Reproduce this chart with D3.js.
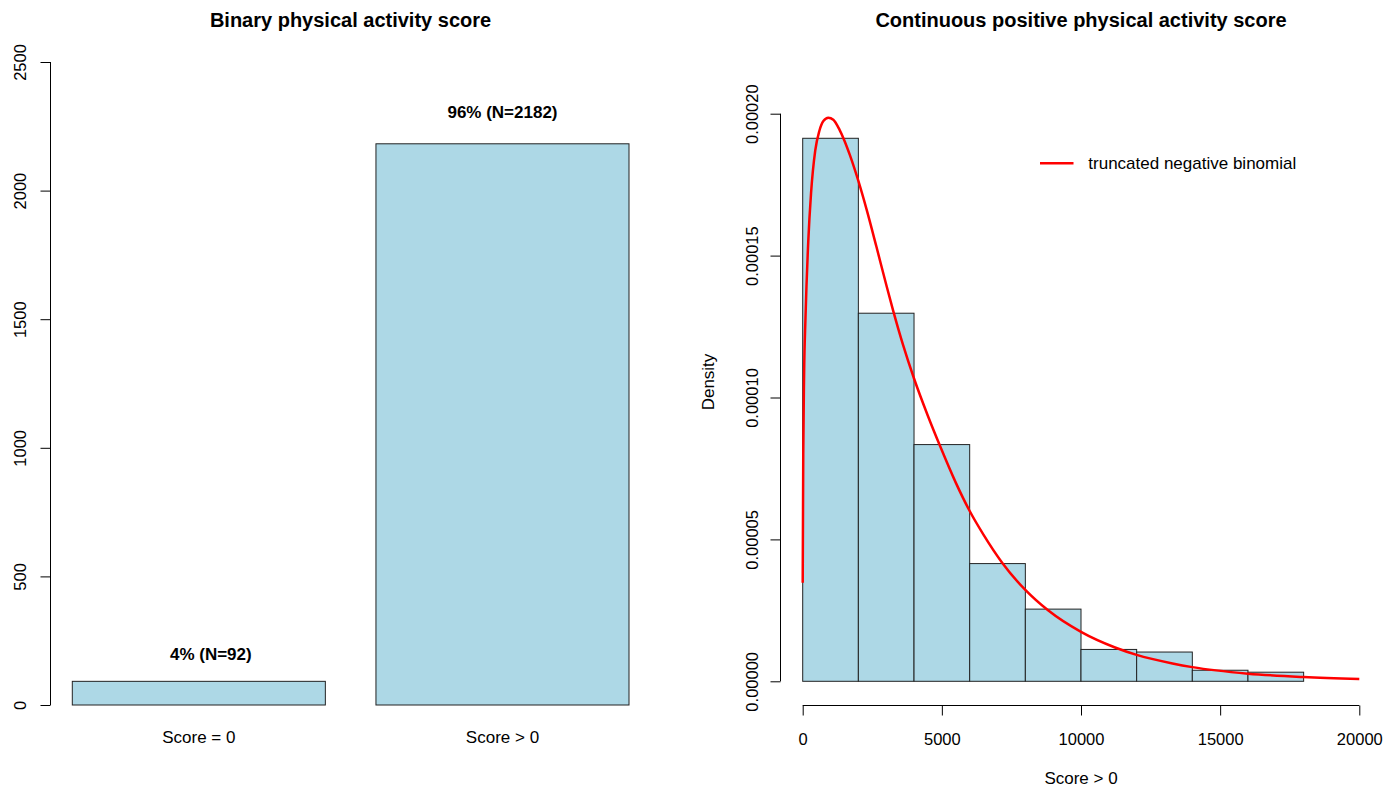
<!DOCTYPE html>
<html>
<head>
<meta charset="utf-8">
<script src="https://cdn.jsdelivr.net/npm/d3@7"></script>
<style>
  html, body { margin: 0; padding: 0; background: #fff; }
  svg { display: block; font-family: "Liberation Sans", Arial, Helvetica, sans-serif; }
  text { fill: #000; }
</style>
</head>
<body>
<svg id="chart" width="1397" height="788"></svg>
<script>
// ---------------- DATA ----------------
const barCategories = ["Score = 0", "Score > 0"];
const barCounts = [92, 2182];
const barLabels = ["4% (N=92)", "96% (N=2182)"];
const barYTicks = [0, 500, 1000, 1500, 2000, 2500];

const histBreaks = [0, 2000, 4000, 6000, 8000, 10000, 12000, 14000, 16000, 18000];
const histCounts = [835, 566, 364, 181, 111, 49, 45, 17, 14];
const histN = 2182;
const histXTicks = [0, 5000, 10000, 15000, 20000];
const histYTicks = [0, 0.00005, 0.0001, 0.00015, 0.0002];

// fitted curve: score, density
const curveX = [0, 20, 50, 100, 200, 300, 450, 600, 750, 920, 1100, 1325, 1500, 1700, 2000,
  2300, 2650, 3000, 3250, 3600, 4000, 4500, 4940, 5500, 6000, 6500, 7166, 8000, 8817,
  10000, 11224, 12000, 13287, 14000, 16000, 18000, 20000];
const curveY = [0.0000347, 0.000080, 0.000108, 0.000128, 0.000155, 0.000172, 0.000187, 0.000194,
  0.0001975, 0.0001986, 0.0001979, 0.0001943, 0.0001905, 0.0001853, 0.0001763,
  0.0001661, 0.0001531, 0.0001398, 0.0001306, 0.0001187, 0.0001067, 0.0000935, 0.0000828,
  0.0000700, 0.0000600, 0.0000516, 0.0000418, 0.0000322, 0.0000250,
  0.0000174, 0.0000119, 0.0000093, 0.0000063, 0.0000050, 0.0000027, 0.0000015, 0.0000008];

const legendLabel = "truncated negative binomial";
const titles = ["Binary physical activity score", "Continuous positive physical activity score"];

// ---------------- DRAW ----------------
const svg = d3.select("#chart");
const fill = "#ADD8E6";
const stroke = "#222";
const tickFont = "16.5px";
const labFont = "17px";

// ===== Left panel: bar plot =====
const L = svg.append("g");
const xb = d3.scaleBand().domain(barCategories).range([72.3, 629]).paddingInner(1 / 6).paddingOuter(0);
const yb = d3.scaleLinear().domain([0, 2500]).range([705, 62]);

L.selectAll("rect.bar").data(barCounts).enter().append("rect")
  .attr("x", (d, i) => xb(barCategories[i]))
  .attr("y", d => yb(d))
  .attr("width", xb.bandwidth())
  .attr("height", d => yb(0) - yb(d))
  .attr("fill", fill).attr("stroke", stroke).attr("stroke-width", 1);

// y axis
const yAxisL = d3.axisLeft(yb).tickValues(barYTicks).tickSize(10).tickPadding(0).tickFormat(d3.format("d"));
const gyL = L.append("g").attr("transform", "translate(50.5,0)").call(yAxisL);
gyL.select(".domain").attr("d", `M0,${yb(0)}V${yb(2500)}`).attr("stroke", "#000");
gyL.selectAll(".tick line").attr("stroke", "#000");
gyL.selectAll(".tick text")
  .attr("x", 0).attr("dy", null)
  .attr("transform", "translate(-31,0) rotate(-90)")
  .attr("text-anchor", "middle").attr("dominant-baseline", "central")
  .style("font-size", tickFont).style("font-family", "Liberation Sans, Arial, sans-serif").attr("fill", "#000");

// category labels
L.selectAll("text.cat").data(barCategories).enter().append("text")
  .attr("x", d => xb(d) + xb.bandwidth() / 2)
  .attr("y", 737)
  .attr("text-anchor", "middle").attr("dominant-baseline", "central")
  .style("font-size", labFont).text(d => d);

// value labels
const labelDx = [12, 0];
const labelDy = [27, 31];
L.selectAll("text.val").data(barCounts).enter().append("text")
  .attr("x", (d, i) => xb(barCategories[i]) + xb.bandwidth() / 2 + labelDx[i])
  .attr("y", (d, i) => yb(d) - labelDy[i])
  .attr("text-anchor", "middle").attr("dominant-baseline", "central")
  .style("font-size", labFont).style("font-weight", "bold")
  .text((d, i) => barLabels[i]);

L.append("text").attr("x", 350.5).attr("y", 20)
  .attr("text-anchor", "middle").attr("dominant-baseline", "central")
  .style("font-size", "20px").style("font-weight", "bold").text(titles[0]);

// ===== Right panel: histogram =====
const R = svg.append("g");
const xh = d3.scaleLinear().domain([0, 20000]).range([802.7, 1359.3]);
const yh = d3.scaleLinear().domain([0, 0.0002]).range([681.3, 113.7]);
const bins = histCounts.map((c, i) => ({ x0: histBreaks[i], x1: histBreaks[i + 1], d: c / (histN * (histBreaks[i + 1] - histBreaks[i])) }));

R.selectAll("rect.hist").data(bins).enter().append("rect")
  .attr("x", d => xh(d.x0))
  .attr("y", d => yh(d.d))
  .attr("width", d => xh(d.x1) - xh(d.x0))
  .attr("height", d => yh(0) - yh(d.d))
  .attr("fill", fill).attr("stroke", stroke).attr("stroke-width", 1);

// x axis
const xAxisR = d3.axisBottom(xh).tickValues(histXTicks).tickSize(10).tickPadding(0).tickFormat(d3.format("d"));
const gxR = R.append("g").attr("transform", "translate(0,705.5)").call(xAxisR);
gxR.select(".domain").attr("d", `M${xh(0)},0H${xh(20000)}`).attr("stroke", "#000");
gxR.selectAll(".tick line").attr("stroke", "#000");
gxR.selectAll(".tick text").attr("y", 33).attr("dy", null)
  .attr("dominant-baseline", "central")
  .style("font-size", tickFont).style("font-family", "Liberation Sans, Arial, sans-serif").attr("fill", "#000");

// y axis
const yAxisR = d3.axisLeft(yh).tickValues(histYTicks).tickSize(10).tickPadding(0).tickFormat(d => d.toFixed(5));
const gyR = R.append("g").attr("transform", "translate(780.5,0)").call(yAxisR);
gyR.select(".domain").attr("d", `M0,${yh(0)}V${yh(0.0002)}`).attr("stroke", "#000");
gyR.selectAll(".tick line").attr("stroke", "#000");
gyR.selectAll(".tick text")
  .attr("x", 0).attr("dy", null)
  .attr("transform", "translate(-29,0) rotate(-90)")
  .attr("text-anchor", "middle").attr("dominant-baseline", "central")
  .style("font-size", tickFont).style("font-family", "Liberation Sans, Arial, sans-serif").attr("fill", "#000");

// fitted curve
const pts = curveX.map((x, i) => [x, curveY[i]]);
R.append("path").datum(pts)
  .attr("d", d3.line().x(d => xh(d[0])).y(d => yh(d[1])).curve(d3.curveMonotoneX))
  .attr("fill", "none").attr("stroke", "#FF0000").attr("stroke-width", 2.5);

// axis labels
R.append("text").attr("x", 1081).attr("y", 778)
  .attr("text-anchor", "middle").attr("dominant-baseline", "central")
  .style("font-size", labFont).text("Score > 0");
R.append("text").attr("transform", "translate(708.5,382) rotate(-90)")
  .attr("text-anchor", "middle").attr("dominant-baseline", "central")
  .style("font-size", labFont).text("Density");

// legend
R.append("line").attr("x1", 1040).attr("x2", 1073.5).attr("y1", 163.3).attr("y2", 163.3)
  .attr("stroke", "#FF0000").attr("stroke-width", 2.5);
R.append("text").attr("x", 1088.3).attr("y", 163.3)
  .attr("dominant-baseline", "central")
  .style("font-size", labFont).text(legendLabel);

R.append("text").attr("x", 1081).attr("y", 20)
  .attr("text-anchor", "middle").attr("dominant-baseline", "central")
  .style("font-size", "20px").style("font-weight", "bold").text(titles[1]);
</script>
</body>
</html>
